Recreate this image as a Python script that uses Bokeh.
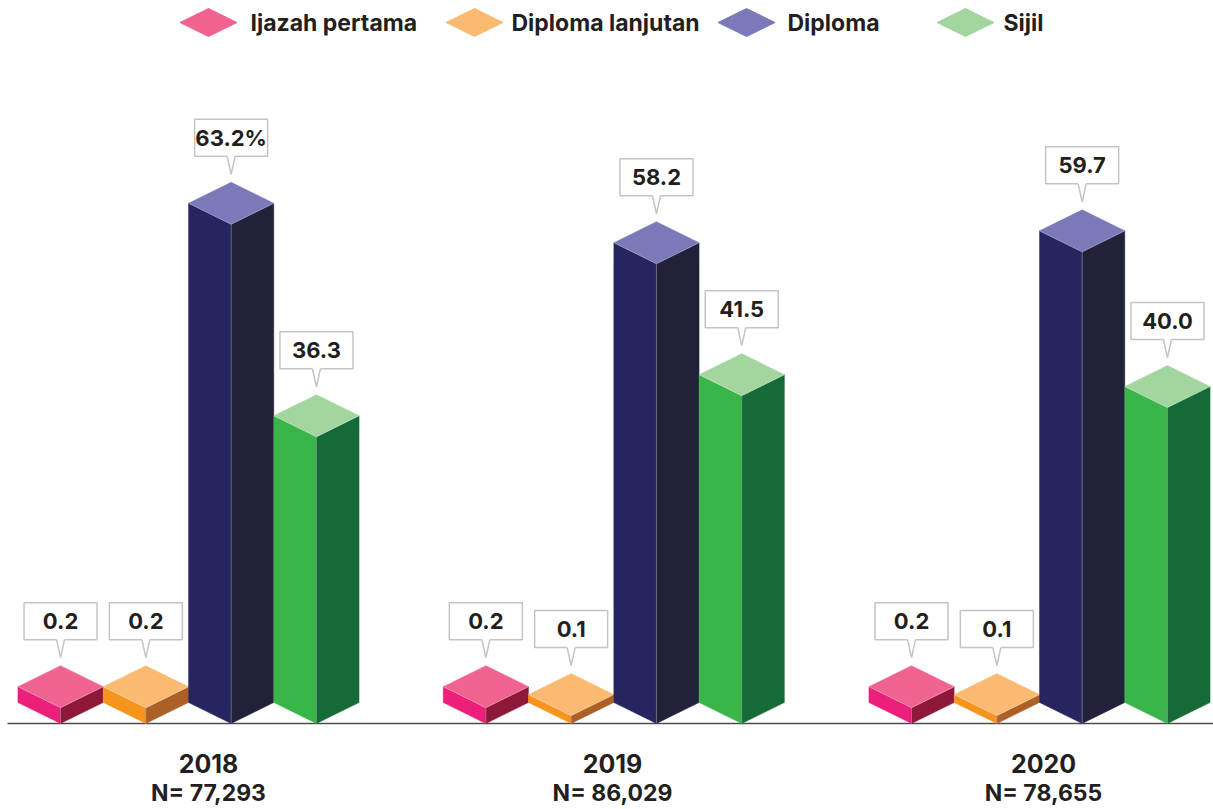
from bokeh.plotting import figure
from bokeh.models import Range1d
from bokeh.embed import file_html
from bokeh.resources import INLINE
from bokeh.core.properties import value

# ---------------- data ----------------
years = ["2018", "2019", "2020"]
n_labels = ["N= 77,293", "N= 86,029", "N= 78,655"]
series = ["Ijazah pertama", "Diploma lanjutan", "Diploma", "Sijil"]
ijazah_pertama = [0.2, 0.2, 0.2]
diploma_lanjutan = [0.2, 0.1, 0.1]
diploma = [63.2, 58.2, 59.7]
sijil = [36.3, 41.5, 40.0]
value_labels = [
    ["0.2", "0.2", "63.2%", "36.3"],
    ["0.2", "0.1", "58.2", "41.5"],
    ["0.2", "0.1", "59.7", "40.0"],
]

# ---------------- style ----------------
top_colors = ["#F06391", "#FBBA72", "#7C79B9", "#A3D59E"]
left_colors = ["#EC1F7A", "#F7941E", "#272560", "#39B54A"]
right_colors = ["#8E1838", "#AC5F27", "#22213A", "#146B38"]
TXT = "#231F20"
FONT = value("Inter")

W, H = 1213, 805
K = 7.9          # px per percentage point
BASE = 723       # screen y of baseline
HW = 42.6        # half width of a bar (px)
DY = 21.0        # isometric depth offset (px)
d = DY / K

def sy(px):
    """screen y (px) -> data y"""
    return (BASE - px) / K

p = figure(width=W, height=H, output_backend="svg", toolbar_location=None,
           x_range=Range1d(0, W), y_range=Range1d(sy(H), sy(0)),
           min_border=0, outline_line_color=None)
p.axis.visible = False
p.grid.visible = False
p.background_fill_color = "white"
p.border_fill_color = "white"

# baseline
p.segment(x0=[7], y0=[0], x1=[1213], y1=[0], line_color="#4D4D4D", line_width=1.6)

group_centers = [188, 613.3, 1039]
step = 85.3
all_vals = [ijazah_pertama, diploma_lanjutan, diploma, sijil]

def disp(v):
    # very small shares are drawn exaggerated (x10) so they stay visible
    return v if v >= 1 else v * 10

for gi, g in enumerate(group_centers):
    for si in range(4):
        v = all_vals[si][gi]
        h = disp(v)
        cx = g + (si - 1.5) * step
        lx = [cx - HW, cx, cx, cx - HW]
        ly = [d, 0, h, h + d]
        rx = [cx, cx + HW, cx + HW, cx]
        ry = [0, d, h + d, h]
        tx = [cx, cx + HW, cx, cx - HW]
        ty = [h, h + d, h + 2 * d, h + d]
        p.patch(lx, ly, fill_color=left_colors[si], line_color=left_colors[si], line_width=0.5)
        p.patch(rx, ry, fill_color=right_colors[si], line_color=right_colors[si], line_width=0.5)
        p.patch(tx, ty, fill_color=top_colors[si], line_color=top_colors[si], line_width=0.5)
        # subtle highlight on front edge
        p.segment(x0=[cx], y0=[0], x1=[cx], y1=[h], line_color="#B8B8C8", line_width=0.8, line_alpha=0.55)
        p.multi_line([[cx - HW, cx, cx + HW]], [[h + d, h, h + d]],
                     line_color="#FFFFFF", line_width=0.7, line_alpha=0.35)

        # callout
        apex = h + 2 * d + 8 / K
        base = apex + 18 / K
        top = base + 37 / K
        p.quad(left=[cx - 36.5], right=[cx + 36.5], bottom=[base], top=[top],
               fill_color="white", line_color="#C4C4C4", line_width=1.5)
        p.patch([cx - 4, cx, cx + 4, cx + 4, cx - 4],
                [base, apex, base, base + 1.5 / K, base + 1.5 / K],
                fill_color="white", line_color=None)
        p.multi_line([[cx - 4, cx, cx + 4]], [[base, apex, base]],
                     line_color="#C4C4C4", line_width=1.5)
        p.text(x=[cx], y=[(base + top) / 2], text=[value_labels[gi][si]],
               text_font=FONT, text_font_style="bold", text_font_size="22px",
               text_color=TXT, text_align="center", text_baseline="middle")

# year and N labels
label_x = [208, 612, 1043]
p.text(x=label_x, y=[sy(763)] * 3, text=years, text_font=FONT,
       text_font_style="bold", text_font_size="25px", text_color=TXT,
       text_align="center", text_baseline="middle")
p.text(x=label_x, y=[sy(792)] * 3, text=n_labels, text_font=FONT,
       text_font_style="bold", text_font_size="23px", text_color=TXT,
       text_align="center", text_baseline="middle")

# legend
leg_cx = [208, 474, 746, 965]
leg_tx = [250, 511, 787, 1003]
ly0 = 22
for i in range(4):
    cx = leg_cx[i]
    p.patch([cx - 28.5, cx, cx + 28.5, cx],
            [sy(ly0), sy(ly0 + 14), sy(ly0), sy(ly0 - 14)],
            fill_color=top_colors[i], line_color=top_colors[i])
p.text(x=leg_tx, y=[sy(ly0)] * 4, text=series, text_font=FONT,
       text_font_style="bold", text_font_size="23px", text_color=TXT,
       text_align="left", text_baseline="middle")

open("out.html", "w").write(file_html(p, INLINE))
